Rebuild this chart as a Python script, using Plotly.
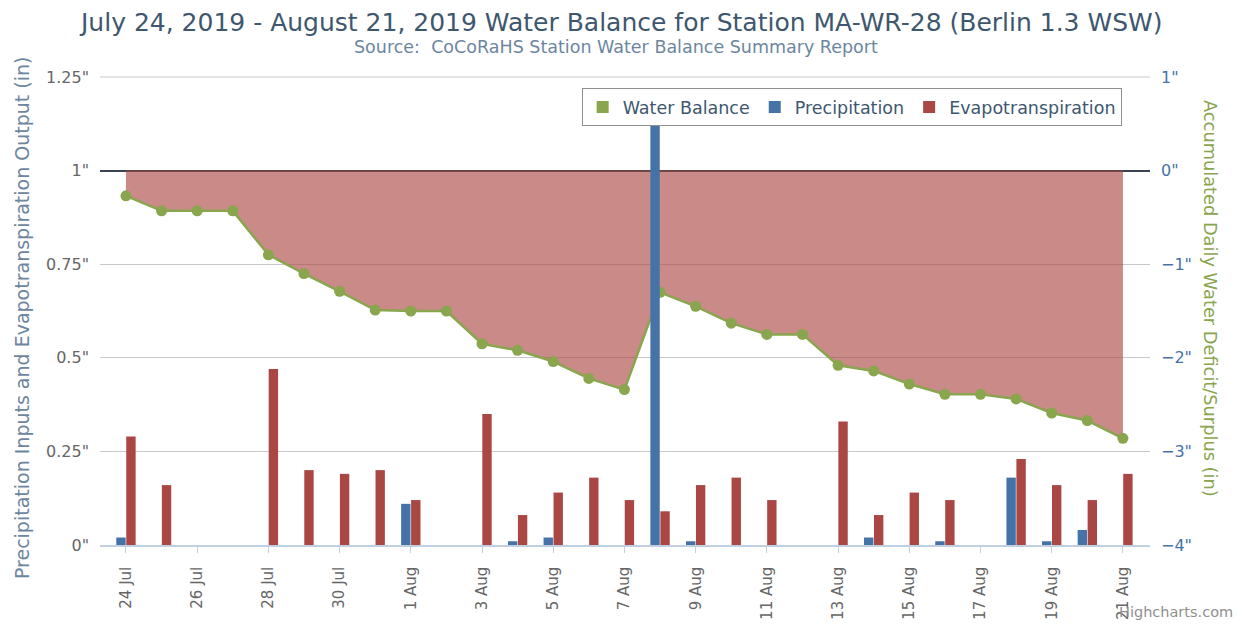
import plotly.graph_objects as go

dates = ["2019-07-24", "2019-07-25", "2019-07-26", "2019-07-27", "2019-07-28", "2019-07-29",
         "2019-07-30", "2019-07-31", "2019-08-01", "2019-08-02", "2019-08-03", "2019-08-04",
         "2019-08-05", "2019-08-06", "2019-08-07", "2019-08-08", "2019-08-09", "2019-08-10",
         "2019-08-11", "2019-08-12", "2019-08-13", "2019-08-14", "2019-08-15", "2019-08-16",
         "2019-08-17", "2019-08-18", "2019-08-19", "2019-08-20", "2019-08-21"]

precipitation = [0.02, 0, 0, 0, 0, 0, 0, 0, 0.11, 0, 0, 0.01, 0.02, 0, 0, 1.13, 0.01, 0, 0, 0,
                 0, 0.02, 0, 0.01, 0, 0.18, 0.01, 0.04, 0]

evapotranspiration = [0.29, 0.16, 0, 0, 0.47, 0.20, 0.19, 0.20, 0.12, 0, 0.35, 0.08, 0.14, 0.18,
                      0.12, 0.09, 0.16, 0.18, 0.12, 0, 0.33, 0.08, 0.14, 0.12, 0, 0.23, 0.16,
                      0.12, 0.19]

water_balance = [-0.27, -0.43, -0.43, -0.43, -0.90, -1.10, -1.29, -1.49, -1.50, -1.50, -1.85,
                 -1.92, -2.04, -2.22, -2.34, -1.30, -1.45, -1.63, -1.75, -1.75, -2.08, -2.14,
                 -2.28, -2.39, -2.39, -2.44, -2.59, -2.67, -2.86]

title_text = "July 24, 2019 - August 21, 2019 Water Balance for Station MA-WR-28 (Berlin 1.3 WSW)"
subtitle_text = "Source:&nbsp;&nbsp;CoCoRaHS Station Water Balance Summary Report"
left_title = "Precipitation Inputs and Evapotranspiration Output (in)"
right_title = "Accumulated Daily Water Deficit/Surplus (in)"

GREEN = "#89A54E"
BLUE = "#4572A7"
RED = "#AA4643"
FONT = "DejaVu Sans"

fig = go.Figure()

# Water balance area (right axis, drawn first / underneath)
fig.add_trace(go.Scatter(
    x=dates, y=water_balance, yaxis="y", mode="lines+markers",
    line=dict(color=GREEN, width=2.5),
    marker=dict(color=GREEN, size=11),
    fill="tozeroy", fillcolor="rgba(170,70,67,0.63)",
    showlegend=False, name="Water Balance",
))

# Bars (left axis, overlaid on top)
fig.add_trace(go.Bar(
    x=dates, y=precipitation, yaxis="y2", name="Precipitation",
    marker=dict(color=BLUE, line=dict(width=0)), showlegend=False,
))
fig.add_trace(go.Bar(
    x=dates, y=evapotranspiration, yaxis="y2", name="Evapotranspiration",
    marker=dict(color=RED, line=dict(width=0)), showlegend=False,
))

# Legend entries (square symbols as in the original)
for nm, col in [("Water Balance", GREEN), ("Precipitation", BLUE), ("Evapotranspiration", RED)]:
    fig.add_trace(go.Scatter(
        x=[None], y=[None], mode="markers", name=nm,
        marker=dict(symbol="square", size=16, color=col),
        showlegend=True,
    ))

fig.update_layout(
    width=1236, height=616,
    margin=dict(l=92, r=94, t=69, b=79, autoexpand=False),
    paper_bgcolor="white", plot_bgcolor="white",
    font=dict(family=FONT, color="#666666"),
    barmode="group", bargap=0.44, bargroupgap=0.06,
    xaxis=dict(
        type="date", automargin=False,
        range=["2019-07-23 06:30", "2019-08-21 18:15"],
        tick0="2019-07-24", dtick=2 * 86400000,
        tickformat="%-d %b", tickangle=-90,
        tickfont=dict(size=15, color="#666666", family=FONT),
        showgrid=False, showline=True, linecolor="#C0D0E0", linewidth=1.5,
        ticks="outside", tickcolor="#C0D0E0", ticklen=6, tickwidth=1,
        ticklabelstandoff=8,
        zeroline=False,
    ),
    yaxis=dict(
        side="right", range=[-4, 1], dtick=1, ticksuffix='"', automargin=False,
        tickfont=dict(size=16, color=BLUE, family=FONT),
        showgrid=True, gridcolor="#C8C8C8", gridwidth=1,
        zeroline=True, zerolinecolor="#3A4450", zerolinewidth=2,
        showline=False, ticks="", ticklabelstandoff=10,
    ),
    yaxis2=dict(
        side="left", overlaying="y", range=[0, 1.25], dtick=0.25, ticksuffix='"',
        automargin=False,
        tickfont=dict(size=16, color="#666666", family=FONT),
        showgrid=False, zeroline=False, showline=False, ticks="",
        ticklabelstandoff=10,
    ),
    legend=dict(
        orientation="h", x=0.973, xanchor="right", y=0.976, yanchor="top",
        bgcolor="white", bordercolor="#909090", borderwidth=1,
        font=dict(size=17.5, color="#3E576F", family=FONT),
        itemsizing="constant", traceorder="normal",
    ),
    shapes=[
        dict(type="line", xref="paper", yref="paper", x0=0, x1=1, y0=1, y1=1,
             line=dict(color="#C8C8C8", width=1), layer="below"),
    ],
    annotations=[
        dict(text=title_text, xref="paper", yref="paper", x=0.496, y=1.1175,
             xanchor="center", yanchor="middle", showarrow=False,
             font=dict(size=25, color="#3E576F", family=FONT)),
        dict(text=subtitle_text, xref="paper", yref="paper", x=0.491, y=1.064,
             xanchor="center", yanchor="middle", showarrow=False,
             font=dict(size=17.5, color="#6D869F", family=FONT)),
        dict(text=left_title, xref="paper", yref="paper", x=-0.0743, y=0.487,
             xanchor="center", yanchor="middle", textangle=-90, showarrow=False,
             font=dict(size=19, color="#6D869F", family=FONT)),
        dict(text=right_title, xref="paper", yref="paper", x=1.057, y=0.526,
             xanchor="center", yanchor="middle", textangle=90, showarrow=False,
             font=dict(size=17.8, color=GREEN, family=FONT)),
        dict(text="Highcharts.com", xref="paper", yref="paper", x=1.081, y=-0.143,
             xanchor="right", yanchor="middle", showarrow=False,
             font=dict(size=14.5, color="#909090", family=FONT)),
    ],
)

fig.write_html("out.html")
